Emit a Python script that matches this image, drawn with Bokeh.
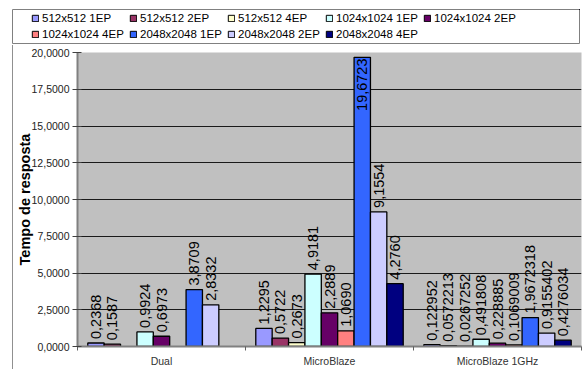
import math
from bokeh.plotting import figure
from bokeh.models import ColumnDataSource, Range1d, FixedTicker, Legend, LegendItem
from bokeh.layouts import column
from bokeh.core.properties import value
from bokeh.embed import file_html
from bokeh.resources import INLINE

# ---------------- data ----------------
groups = ["Dual", "MicroBlaze", "MicroBlaze 1GHz"]
series = ["512x512 1EP", "512x512 2EP", "512x512 4EP",
          "1024x1024 1EP", "1024x1024 2EP", "1024x1024 4EP",
          "2048x2048 1EP", "2048x2048 2EP", "2048x2048 4EP"]
colors = ["#9999FF", "#993366", "#FFFFCC",
          "#CCFFFF", "#660066", "#FF8080",
          "#3366FF", "#CCCCFF", "#000080"]
NAN = float("nan")
v512_1ep = [0.2368, 1.2295, 0.122952]
v512_2ep = [0.1587, 0.5722, 0.0572213]
v512_4ep = [NAN, 0.2673, 0.0267252]
v1024_1ep = [0.9924, 4.9181, 0.491808]
v1024_2ep = [0.6973, 2.2889, 0.228885]
v1024_4ep = [NAN, 1.0690, 0.1069009]
v2048_1ep = [3.8709, 19.6723, 1.9672318]
v2048_2ep = [2.8332, 9.1554, 0.9155402]
v2048_4ep = [NAN, 4.2760, 0.4276034]
values = [v512_1ep, v512_2ep, v512_4ep, v1024_1ep, v1024_2ep, v1024_4ep,
          v2048_1ep, v2048_2ep, v2048_4ep]
label_fmt = ["{:.4f}", "{:.4f}", "{:.10g}"]  # per group
y_ticks = [0, 2.5, 5, 7.5, 10, 12.5, 15, 17.5, 20]
y_tick_labels = ["0,0000", "2,5000", "5,0000", "7,5000", "10,0000",
                 "12,5000", "15,0000", "17,5000", "20,0000"]
y_axis_title = "Tempo de resposta"

FONT = "Liberation Sans"
W = 583
LEG_H = 45
MAIN_H = 324
BW = 0.0975
YMAX = 20
LEFT = 12

# ---------------- legend figure ----------------
leg = figure(width=W, height=LEG_H, output_backend="svg", toolbar_location=None,
             x_range=Range1d(0, 1), y_range=Range1d(0, 1),
             x_axis_type=None, y_axis_type=None,
             min_border_left=LEFT, min_border_right=4, min_border_top=9, min_border_bottom=2)
leg.frame_align = False
leg.outline_line_color = "#808080"
leg.outline_line_width = 1
leg.background_fill_color = "white"
items = []
for name, col in zip(series, colors):
    # swatch-only renderer: its single bar lies outside the visible range
    r = leg.vbar(x=[10], top=[10], bottom=[9], width=0.1, fill_color=col,
                 line_color="black", line_width=1)
    items.append(LegendItem(label=name, renderers=[r]))
legend = Legend(items=items, orientation="horizontal", ncols=5, location=(19, 2),
                border_line_alpha=0, background_fill_alpha=0, padding=0, margin=0,
                spacing=2, glyph_width=8, glyph_height=8, label_width=85, label_height=14,
                label_standoff=3, label_text_font=FONT, label_text_font_size="11.5px",
                label_text_color="black")
leg.add_layout(legend, "center")

# ---------------- main figure ----------------
p = figure(width=W - LEFT, height=MAIN_H, output_backend="svg", toolbar_location=None,
           x_range=Range1d(-0.5, 2.5), y_range=Range1d(0, YMAX),
           min_border_left=60, min_border_right=3, min_border_top=7,
           min_border_bottom=10)
p.frame_align = False
p.margin = (0, 0, 0, LEFT)
p.styles = {"border-left": "1px solid #909090"}
p.background_fill_color = "#C0C0C0"
p.border_fill_color = "white"
p.outline_line_color = None
p.xgrid.visible = False
p.ygrid.grid_line_color = "#1a1a1a"
p.ygrid.grid_line_width = 1

yax = p.yaxis[0]
yax.ticker = FixedTicker(ticks=y_ticks, minor_ticks=[])
yax.major_label_overrides = {float(t): l for t, l in zip(y_ticks, y_tick_labels)}
yax.axis_line_color = "#808080"
yax.axis_line_width = 2
yax.major_tick_in = 4
yax.major_tick_out = 5
yax.major_tick_line_color = "#404040"
yax.major_label_text_font = FONT
yax.major_label_text_font_size = "10.5px"
yax.major_label_text_color = "#222222"
yax.major_label_standoff = 3
yax.axis_label = y_axis_title
yax.axis_label_text_font = FONT
yax.axis_label_text_font_style = "bold"
yax.axis_label_text_font_size = "14.5px"
yax.axis_label_text_color = "black"
yax.axis_label_standoff = -4

xax = p.xaxis[0]
xax.ticker = FixedTicker(ticks=list(range(len(groups))),
                         minor_ticks=[i - 0.5 for i in range(len(groups) + 1)])
xax.major_label_overrides = {float(i): g for i, g in enumerate(groups)}
xax.axis_line_color = "#808080"
xax.axis_line_width = 2
xax.major_tick_in = 0
xax.major_tick_out = 0
xax.minor_tick_in = 0
xax.minor_tick_out = 4
xax.minor_tick_line_color = "#606060"
xax.major_label_text_font = FONT
xax.major_label_text_font_size = "10.5px"
xax.major_label_text_color = "#333333"
xax.major_label_standoff = 4

lab_up = dict(x=[], y=[], t=[])
lab_in = dict(x=[], y=[], t=[])
nser = len(series)
for s, (vals, col) in enumerate(zip(values, colors)):
    xs, tops = [], []
    for g, v in enumerate(vals):
        if math.isnan(v):
            continue
        x = g + (s - (nser - 1) / 2) * BW
        xs.append(x)
        tops.append(v)
        txt = label_fmt[g].format(v).replace(".", ",")
        if YMAX - v < 3:
            lab_in["x"].append(x); lab_in["y"].append(YMAX); lab_in["t"].append(txt)
        else:
            lab_up["x"].append(x); lab_up["y"].append(v); lab_up["t"].append(txt)
    p.vbar(x=xs, top=tops, width=BW, bottom=0, fill_color=col,
           line_color="black", line_width=1.3)

p.text(x="x", y="y", text="t", source=ColumnDataSource(lab_up), angle=math.pi / 2,
       text_align="left", text_baseline="middle", y_offset=-4,
       text_font=value(FONT), text_font_size="14.5px", text_color="black")
p.text(x="x", y="y", text="t", source=ColumnDataSource(lab_in), angle=math.pi / 2,
       text_align="right", text_baseline="middle", y_offset=6,
       text_font=value(FONT), text_font_size="14.5px", text_color="black")

layout = column(leg, p, spacing=0)
open("out.html", "w").write(file_html(layout, INLINE))
